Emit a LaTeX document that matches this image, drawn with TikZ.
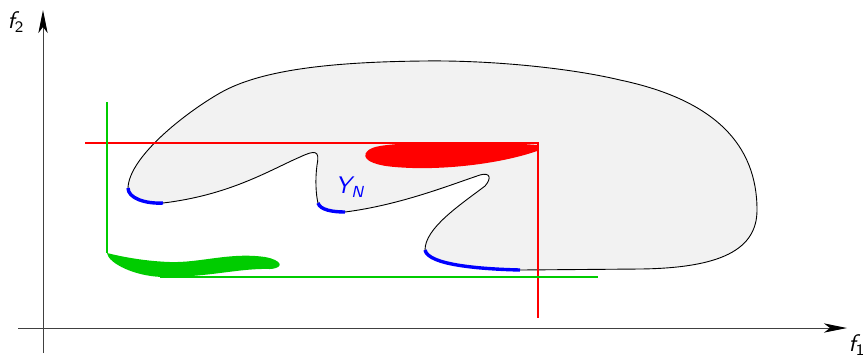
\documentclass[tikz,border=0pt]{standalone}
\usetikzlibrary{arrows.meta}
\definecolor{blobfill}{HTML}{F2F2F2}
\definecolor{mygreen}{HTML}{00CC00}
\tikzset{
  axisline/.style={draw=black!75,line width=0.5pt,-{Stealth[length=11.5pt,width=4.6pt,inset=3pt,black]}},
  outline/.style={draw=black,line width=0.45pt},
  redline/.style={draw=red,line width=1pt},
  greenline/.style={draw=mygreen,line width=1pt},
  bluepart/.style={draw=blue,line width=1.7pt},
  lbl/.style={font=\fontsize{12}{14}\selectfont\sffamily\itshape,inner sep=0pt}
}
\def\blobpath{(128,188) .. controls (128,198) and (145,204) .. (163,203)
  .. controls (230,195) and (270,170) .. (300,157)
  .. controls (315,150) and (320,150) .. (317,165)
  .. controls (315,180) and (316,195) .. (318,203)
  .. controls (320,210) and (333,212) .. (345,212)
  .. controls (400,205) and (450,185) .. (480,175)
  .. controls (490,172) and (492,178) .. (485,186)
  .. controls (460,205) and (425,228) .. (425,250)
  .. controls (428,265) and (480,269) .. (520,270)
  -- (640,269)
  .. controls (720,268) and (757,250) .. (757,210)
  .. controls (757,145) and (715,100) .. (620,80)
  .. controls (570,68) and (490,60) .. (423,61)
  .. controls (330,62) and (260,70) .. (220,93)
  .. controls (185,113) and (129,157) .. (128,188) -- cycle}
\begin{document}
\begin{tikzpicture}[x=0.5pt,y=-0.5pt]
\useasboundingbox (0,0) rectangle (865,355);
% blob
\fill[blobfill] \blobpath;
\draw[outline] \blobpath;
% axes
\coordinate (ybot) at (43,353);
\coordinate (ytop) at (43,10);
\coordinate (xleft) at (18,328);
\coordinate (xright) at (847,328);
\draw[axisline] (ybot) -- (ytop);
\draw[axisline] (xleft) -- (xright);
\node[lbl] (f2) at (16,22) {f\textsubscript{\upshape 2}};
\node[lbl] (f1) at (857,345) {f\textsubscript{\upshape 1}};
% red
\coordinate (rl) at (85,143);
\coordinate (rc) at (538,143);
\coordinate (rb) at (538,318);
\draw[redline] (rl) -- (rc) -- (rb);
\fill[red] (537,145) .. controls (490,141) and (410,141) .. (380,146)
  .. controls (360,149) and (356,164) .. (395,167)
  .. controls (440,171) and (500,164) .. (537,151) -- cycle;
% green
\coordinate (gt) at (107,102);
\coordinate (gc) at (107,253);
\coordinate (gl) at (160,277);
\coordinate (gr) at (598,277);
\draw[greenline] (gt) -- (gc);
\draw[greenline] (gl) -- (gr);
\fill[mygreen] (107,253) .. controls (108,263) and (135,277) .. (165,277)
  .. controls (210,277) and (240,268) .. (270,269)
  .. controls (285,268) and (282,260) .. (265,257)
  .. controls (230,252) and (200,263) .. (170,262)
  .. controls (140,261) and (115,255) .. (107,253) -- cycle;
% blue parts
\draw[bluepart] (128,188) .. controls (128,198) and (145,204) .. (163,203);
\draw[bluepart] (318,203) .. controls (320,210) and (333,212) .. (345,212);
\draw[bluepart] (425,250) .. controls (428,265) and (480,269) .. (520,270);
\node[lbl,text=blue] (yn) at (350,187) {Y\textsubscript{N}};
\end{tikzpicture}
\end{document}
